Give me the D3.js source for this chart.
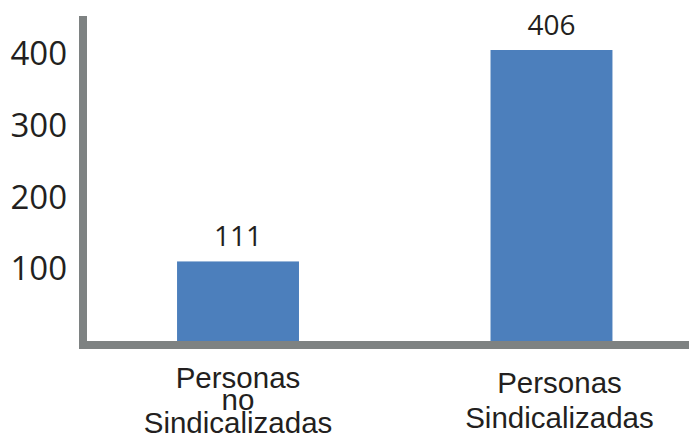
<!DOCTYPE html>
<html>
<head>
<meta charset="utf-8">
<script src="https://cdn.jsdelivr.net/npm/d3@7"></script>
<style>
  body { margin: 0; background: #fff; }
  svg { display: block; }
</style>
</head>
<body>
<div id="container"></div>
<script>
/* CONSTANTS AND GLOBALS */
const width = 689;
const height = 437;

/* DATA */
const categories = ["Personas no Sindicalizadas", "Personas Sindicalizadas"];
const labelLines = [["Personas", "no", "Sindicalizadas"], ["Personas", "Sindicalizadas"]];
const values = [111, 406];
const tickValues = [100, 200, 300, 400];

const axisColor = "#7e8282";
const barColor = "#4c7fbc";
const textColor = "#231f20";

/* SCALES */
const xScale = d3.scaleBand()
  .domain(categories)
  .range([83, 706.5])
  .paddingInner(0.611)
  .paddingOuter(0.3);

const yScale = d3.scaleLinear()
  .domain([0, 406])
  .range([341, 50]);

/* SVG */
const svg = d3.select("#container")
  .append("svg")
  .attr("width", width)
  .attr("height", height);

// bars
svg.selectAll("rect.bar")
  .data(values)
  .join("rect")
  .attr("class", "bar")
  .attr("x", (d, i) => xScale(categories[i]))
  .attr("y", d => yScale(d))
  .attr("width", xScale.bandwidth())
  .attr("height", d => yScale(0) - yScale(d))
  .attr("fill", barColor);

// value labels
svg.selectAll("text.value")
  .data(values)
  .join("text")
  .attr("class", "value")
  .attr("x", (d, i) => xScale(categories[i]) + xScale.bandwidth() / 2)
  .attr("y", d => yScale(d) - 15)
  .attr("text-anchor", "middle")
  .attr("font-family", "'Open Sans', sans-serif")
  .attr("font-size", 28)
  .attr("fill", textColor)
  .text(d => d);

// y axis (labels only, no ticks)
const yAxis = d3.axisLeft(yScale)
  .tickValues(tickValues)
  .tickSize(0)
  .tickPadding(16);

const gy = svg.append("g")
  .attr("transform", "translate(83,0)")
  .call(yAxis);
gy.select(".domain").remove();
gy.selectAll("text")
  .attr("font-family", "'Open Sans', sans-serif")
  .attr("font-size", 33)
  .attr("fill", textColor);

// axis lines
svg.append("rect")
  .attr("x", 79)
  .attr("y", 16)
  .attr("width", 8)
  .attr("height", 333)
  .attr("fill", axisColor);

svg.append("rect")
  .attr("x", 79)
  .attr("y", yScale(0))
  .attr("width", width - 79)
  .attr("height", 8)
  .attr("fill", axisColor);

// category labels
const cats = svg.selectAll("text.cat")
  .data(labelLines)
  .join("text")
  .attr("class", "cat")
  .attr("text-anchor", "middle")
  .attr("font-family", "'Liberation Sans', Arial, sans-serif")
  .attr("font-size", 29.5)
  .attr("fill", textColor);

cats.each(function(lines, i) {
  const lh = lines.length > 2 ? 22.5 : 35;
  const first = 410 - lh * (lines.length - 1) / 2;
  const cx = xScale(categories[i]) + xScale.bandwidth() / 2 + (i === 1 ? 8 : 0);
  d3.select(this).selectAll("tspan")
    .data(lines)
    .join("tspan")
    .attr("x", cx)
    .attr("y", (d, j) => first + j * lh)
    .text(d => d);
});
</script>
</body>
</html>
